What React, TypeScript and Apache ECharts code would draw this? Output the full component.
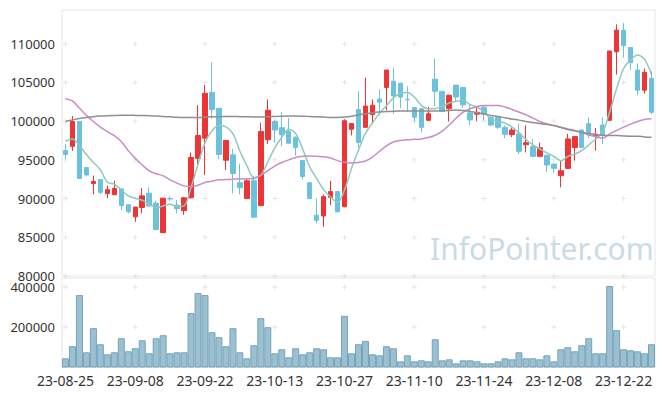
import React, { useEffect, useRef } from "react";
import * as echarts from "echarts";

const dates = [
  "23-08-25","23-08-28","23-08-29","23-08-30","23-08-31","23-09-01",
  "23-09-04","23-09-05","23-09-06","23-09-07","23-09-08",
  "23-09-11","23-09-12","23-09-13","23-09-14","23-09-15",
  "23-09-18","23-09-19","23-09-20","23-09-21","23-09-22",
  "23-09-25","23-09-26","23-09-27","23-10-04","23-10-05","23-10-06",
  "23-10-10","23-10-11","23-10-12","23-10-13",
  "23-10-16","23-10-17","23-10-18","23-10-19","23-10-20",
  "23-10-23","23-10-24","23-10-25","23-10-26","23-10-27",
  "23-10-30","23-10-31","23-11-01","23-11-02","23-11-03",
  "23-11-06","23-11-07","23-11-08","23-11-09","23-11-10",
  "23-11-13","23-11-14","23-11-15","23-11-16","23-11-17",
  "23-11-20","23-11-21","23-11-22","23-11-23","23-11-24",
  "23-11-27","23-11-28","23-11-29","23-11-30","23-12-01",
  "23-12-04","23-12-05","23-12-06","23-12-07","23-12-08",
  "23-12-11","23-12-12","23-12-13","23-12-14","23-12-15",
  "23-12-18","23-12-19","23-12-20","23-12-21","23-12-22",
  "23-12-26","23-12-27","23-12-28","23-12-29",
];

const opens = [
  96200, 96750, 99950, 94000, 91950, 92450, 90650, 90500, 91250, 89200,
  87650, 88850, 90700, 89400, 85600, 90000, 89150, 88450, 90100, 95200,
  97800, 103700, 101650, 94950, 95650, 92050, 90000, 92300, 89100, 97600,
  99950, 99150, 98700, 97900, 94900, 92050, 87850, 87750, 90150, 90900,
  88950, 98950, 101500, 99200, 100850, 102850, 104350, 105150, 104900, 102800,
  101750, 101600, 100100, 105400, 103850, 101600, 104650, 104350, 101050, 100900,
  101800, 100450, 100500, 99200, 98250, 98350, 96950, 96700, 95450, 95600,
  94450, 92950, 93900, 96600, 98850, 99650, 98050, 99500, 100100, 108950,
  111750, 109500, 106600, 104000, 105500,
];
const closes = [
  95700, 99950, 92600, 93050, 92200, 90800, 91150, 91300, 89100, 88300,
  88900, 90350, 89050, 86000, 90050, 89950, 88700, 90100, 95300, 98150,
  103600, 101500, 95700, 97500, 93250, 91400, 92300, 87600, 98650, 101400,
  98850, 98250, 97150, 96600, 92850, 90000, 87200, 90250, 90900, 88300,
  100050, 99700, 97250, 101950, 102050, 102450, 106600, 103250, 103100, 102750,
  100500, 99200, 100950, 103850, 101250, 103350, 103100, 102100, 100150, 101150,
  100850, 99500, 99200, 98300, 98850, 96100, 97200, 95450, 96550, 94350,
  93900, 93600, 97700, 98000, 96600, 98250, 98300, 98150, 109050, 111750,
  109750, 107550, 104000, 106300, 101150,
];
const lows = [
  95100, 96150, 92550, 92900, 90550, 90550, 90050, 90500, 88500, 88100,
  87000, 88100, 88950, 85950, 85550, 89700, 88100, 87900, 90000, 94150,
  93050, 100300, 95100, 93700, 90700, 90550, 89950, 87500, 89000, 97050,
  97200, 96750, 97050, 95550, 92500, 89900, 86800, 86350, 89150, 88200,
  88900, 98150, 96600, 99100, 99650, 100750, 101400, 100950, 101700, 101150,
  99950, 98550, 100050, 101950, 101150, 99950, 102550, 101700, 99500, 99950,
  100100, 99350, 99000, 97800, 97950, 95750, 95950, 95400, 95350, 93450,
  93350, 91450, 93850, 94900, 96550, 97800, 96200, 97050, 100050, 106000,
  108200, 106600, 103350, 103550, 100850,
];
const highs = [
  97050, 100650, 100000, 94050, 92950, 92500, 91650, 92300, 91300, 89250,
  88950, 91350, 91450, 89700, 90100, 90300, 89800, 90200, 95950, 102050,
  104650, 107600, 101700, 97500, 96400, 94450, 92600, 92950, 99800, 102800,
  100200, 101150, 100400, 98050, 94900, 92050, 90000, 90500, 92300, 91000,
  100250, 99750, 103850, 105600, 102800, 104100, 106600, 106900, 104950, 104500,
  101750, 101650, 101850, 108100, 103900, 103400, 104650, 104400, 102050, 101950,
  102050, 100650, 100550, 99450, 99200, 99650, 99450, 97700, 97250, 95650,
  94500, 94900, 98350, 98050, 98900, 100450, 99100, 100500, 109100, 112500,
  112650, 109550, 107450, 106800, 106450,
];

const volumes = [
  45800, 105900, 361000, 75800, 195900, 115900, 65800, 75800, 145900, 80800,
  95800, 135900, 70800, 145900, 160900, 70800, 75800, 75800, 270900, 370900,
  360900, 175900, 150900, 105900, 195900, 75800, 45800, 110900, 245900, 200900,
  70800, 90800, 50800, 95800, 65800, 75800, 95800, 90800, 50800, 50800,
  257500, 70800, 115900, 132500, 65800, 60800, 105900, 95800, 30800, 60800,
  30800, 35800, 30800, 140900, 35800, 40800, 20800, 35800, 35800, 30800,
  20800, 20800, 30800, 45800, 40800, 75800, 45800, 45800, 40800, 60800,
  30800, 90800, 100900, 80800, 110900, 145900, 70800, 70800, 406000, 185900,
  90800, 85800, 80800, 70800, 115900,
];

const ma5 = [
  97400, 97700, 96840, 95700, 94670, 93720, 92100, 91860, 91120, 90340,
  90040, 89780, 89260, 88810, 89050, 89270, 88960, 89050, 91430, 94470,
  97200, 98750, 99430, 99250, 98400, 96100, 94250, 92700, 93000, 94750,
  96550, 97920, 98950, 98400, 96400, 94100, 92600, 91150, 90200, 89500,
  91100, 93900, 96250, 98450, 99760, 101000, 102000, 103000, 103600, 103690,
  103120, 102040, 101610, 101610, 101910, 102350, 102550, 102680, 102120, 101820,
  101170, 100300, 99960, 99780, 99220, 98480, 97620, 96920, 96400, 95900,
  95450, 94890, 95450, 95750, 96190, 96920, 97700, 98570, 101170, 104200,
  106800, 107880, 108530, 108010, 106000,
];
const ma20 = [
  102900, 102600, 101690, 100740, 99950, 99220, 98650, 98140, 97360, 96190,
  95190, 94330, 93590, 93200, 92940, 92420, 91990, 91640, 91560, 91730,
  92070, 92250, 92420, 92450, 92500, 92520, 92560, 92600, 93000, 93600,
  94200, 94650, 95000, 95300, 95450, 95500, 95450, 95400, 95250, 94900,
  94680, 94600, 94650, 94850, 95350, 96100, 96800, 97300, 97500, 97600,
  97650, 97700, 97880, 98180, 98700, 99500, 100400, 101170, 101600, 101900,
  102030, 102030, 102030, 101820, 101510, 101170, 100820, 100390, 99960, 99650,
  99430, 99220, 99000, 98790, 98480, 98220, 98010, 97790, 98350, 98790,
  99220, 99610, 99960, 100220, 100300,
];
const ma60 = [
  99960, 100150, 100350, 100480, 100580, 100650, 100700, 100740, 100760, 100760,
  100740, 100720, 100700, 100650, 100600, 100550, 100500, 100470, 100460, 100480,
  100520, 100560, 100580, 100600, 100600, 100580, 100560, 100540, 100540, 100560,
  100600, 100640, 100660, 100660, 100640, 100600, 100560, 100520, 100480, 100460,
  100520, 100640, 100820, 100960, 101080, 101170, 101240, 101280, 101300, 101320,
  101320, 101320, 101320, 101320, 101340, 101380, 101430, 101380, 101250, 101080,
  100950, 100730, 100600, 100430, 100260, 100130, 99950, 99820, 99690, 99580,
  99430, 99180, 98920, 98740, 98570, 98400, 98270, 98180, 98140, 98140,
  98090, 98050, 98050, 97960, 97920,
];

const priceTicks = [80000, 85000, 90000, 95000, 100000, 105000, 110000];
const volumeTicks = [200000, 400000];
const labelEvery = 10;

const UP = "#ee3434";
const DOWN = "#6cc1dc";
const FONT = "'Noto Sans', sans-serif";

export default function App() {
  const ref = useRef<HTMLDivElement>(null);

  useEffect(() => {
    if (!ref.current) return;
    const chart = echarts.init(ref.current, undefined, { renderer: "svg" });

    const candleData = dates.map((_, i) => [opens[i], closes[i], lows[i], highs[i]]);
    const markIdx = dates.map((_, i) => i).filter((i) => i % labelEvery === 0);
    const priceMarks: any[] = [];
    markIdx.forEach((i) => priceTicks.forEach((v) => priceMarks.push([dates[i], v])));
    const volMarks: any[] = [];
    markIdx.forEach((i) => volumeTicks.forEach((v) => volMarks.push([dates[i], v])));
    const plus = "path://M2,0H3V5H2Z M0,2H5V3H0Z";
    const plain = (v: number) => String(v);

    chart.setOption({
      animation: false,
      backgroundColor: "#ffffff",
      textStyle: { fontFamily: FONT },
      grid: [
        { left: 62, right: 10, top: 10, height: 266, show: true, borderColor: "#e6e6e6", borderWidth: 1 },
        { left: 62, right: 10, top: 278, height: 89.5, show: true, borderColor: "#e6e6e6", borderWidth: 1 },
      ],
      xAxis: [
        {
          type: "category", data: dates, gridIndex: 0, boundaryGap: true,
          axisLine: { show: false }, axisTick: { show: false }, axisLabel: { show: false },
          splitLine: { show: false },
        },
        {
          type: "category", data: dates, gridIndex: 1, boundaryGap: true,
          axisLine: { show: false }, axisTick: { show: false },
          axisLabel: { interval: labelEvery - 1, color: "#333", fontSize: 14, margin: 6, fontFamily: FONT },
          splitLine: { show: false },
        },
      ],
      yAxis: [
        {
          type: "value", gridIndex: 0, min: 80000, max: 114350, interval: 5000, scale: true,
          axisLine: { show: false }, axisTick: { show: false }, splitLine: { show: false },
          axisLabel: { color: "#333", fontSize: 13, margin: 7, showMaxLabel: false, fontFamily: FONT, formatter: plain },
        },
        {
          type: "value", gridIndex: 1, min: 0, max: 446000, interval: 200000,
          axisLine: { show: false }, axisTick: { show: false }, splitLine: { show: false },
          axisLabel: { color: "#333", fontSize: 13, margin: 7, showMaxLabel: false, showMinLabel: false, fontFamily: FONT, formatter: plain },
        },
      ],
      graphic: [
        {
          type: "text", left: 430, top: 233, silent: true, z: 0,
          style: { text: "InfoPointer.com", fontSize: 30, fontFamily: FONT, fill: "#c9dbe6" },
        },
      ],
      series: [
        {
          type: "scatter", xAxisIndex: 0, yAxisIndex: 0, data: priceMarks, symbol: plus,
          symbolSize: 5, itemStyle: { color: "#dedede" }, silent: true, z: 1,
        },
        {
          type: "scatter", xAxisIndex: 1, yAxisIndex: 1, data: volMarks, symbol: plus,
          symbolSize: 5, itemStyle: { color: "#dedede" }, silent: true, z: 1,
        },
        {
          type: "candlestick", xAxisIndex: 0, yAxisIndex: 0, data: candleData, barWidth: 5,
          itemStyle: { color: UP, color0: DOWN, borderColor: UP, borderColor0: DOWN, borderWidth: 1 },
          z: 3,
        },
        {
          type: "line", xAxisIndex: 0, yAxisIndex: 0, data: ma5, showSymbol: false, smooth: 0.3,
          lineStyle: { color: "#8ccbbd", width: 1.5 }, z: 4, silent: true,
        },
        {
          type: "line", xAxisIndex: 0, yAxisIndex: 0, data: ma20, showSymbol: false, smooth: 0.3,
          lineStyle: { color: "#c98cc6", width: 1.5 }, z: 4, silent: true,
        },
        {
          type: "line", xAxisIndex: 0, yAxisIndex: 0, data: ma60, showSymbol: false, smooth: 0.3,
          lineStyle: { color: "#8f8f8f", width: 1.5 }, z: 4, silent: true,
        },
        {
          type: "bar", xAxisIndex: 1, yAxisIndex: 1, data: volumes, barCategoryGap: "0%",
          itemStyle: { color: "#9bc0d1", borderColor: "#76a3b8", borderWidth: 1 }, z: 3,
        },
      ],
    });

    return () => chart.dispose();
  }, []);

  return <div ref={ref} style={{ width: 665, height: 396, position: "fixed", left: 0, top: 0 }} />;
}
